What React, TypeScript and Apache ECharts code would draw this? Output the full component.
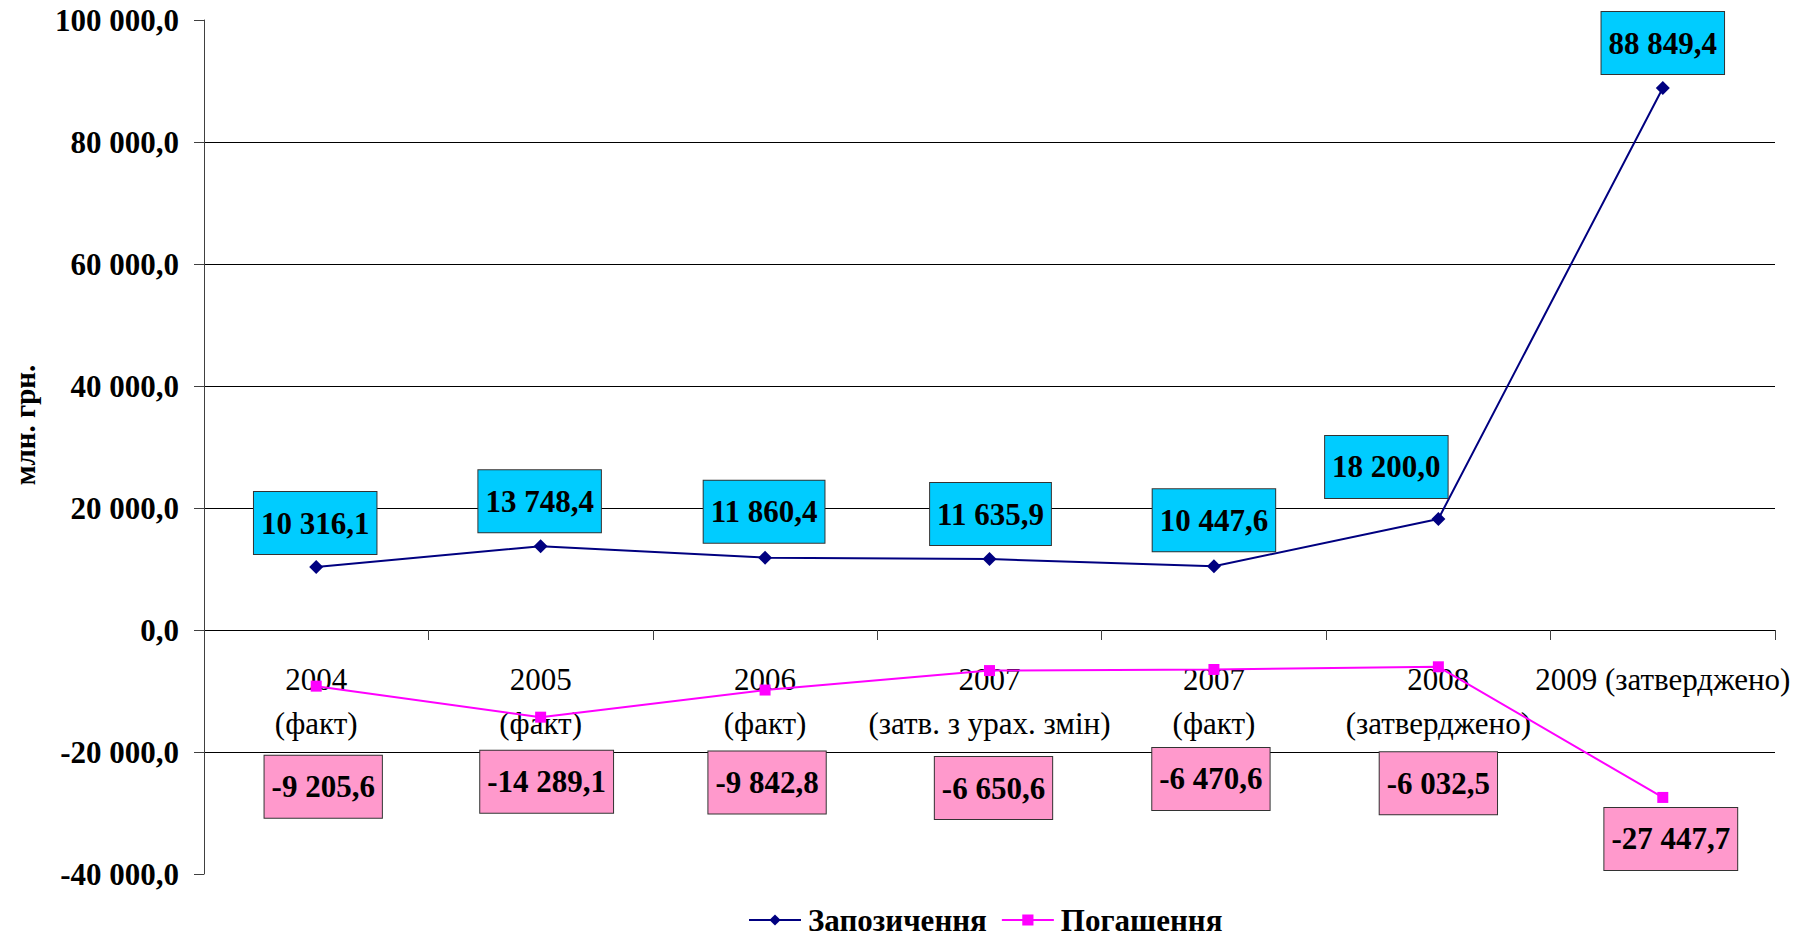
import React, { useEffect, useRef } from "react";
import * as echarts from "echarts";

const categories = [
  "2004\n(факт)",
  "2005\n(факт)",
  "2006\n(факт)",
  "2007\n(затв. з урах. змін)",
  "2007\n(факт)",
  "2008\n(затверджено)",
  "2009 (затверджено)",
];
const borrowing = [10316.1, 13748.4, 11860.4, 11635.9, 10447.6, 18200.0, 88849.4];
const repayment = [-9205.6, -14289.1, -9842.8, -6650.6, -6470.6, -6032.5, -27447.7];
const seriesNames = ["Запозичення", "Погашення"];
const yAxisTitle = "млн. грн.";

// label placement tweaks (layout only)
const borrowLabelOffsets = [[-1, 8], [-1, 7], [-1, 6], [1, 7], [0, 6], [-52, 0], [0, 7]];
const repayLabelOffsets = [[7, 64], [6, 28], [2, 56], [4, 81], [-3, 73], [0, 80], [8, 5]];

const FONT = "'Liberation Serif', 'Times New Roman', serif";

function fmt(v: number): string {
  const s = Math.abs(v).toFixed(1);
  const [i, d] = s.split(".");
  const ii = i.replace(/\B(?=(\d{3})+(?!\d))/g, " ");
  return (v < 0 ? "-" : "") + ii + "," + d;
}

export default function App() {
  const ref = useRef<HTMLDivElement>(null);
  useEffect(() => {
    if (!ref.current) return;
    const chart = echarts.init(ref.current, undefined, { renderer: "svg" });
    const labelBase = {
      show: true,
      formatter: (p: any) => fmt(p.value),
      fontFamily: FONT,
      fontSize: 31,
      fontWeight: "bold" as const,
      color: "#000",
      lineHeight: 32,
      borderColor: "#333",
      borderWidth: 1,
      padding: [15, 7, 15, 7],
    };
    chart.setOption({
      animation: false,
      backgroundColor: "#fff",
      grid: {
        left: 204,
        right: 34,
        top: 20,
        bottom: 64,
        containLabel: false,
        outerBoundsMode: "none",
      },
      legend: {
        data: [{ name: seriesNames[0] }, { name: seriesNames[1] }],
        left: 743,
        top: 899,
        itemWidth: 52,
        itemHeight: 14,
        itemGap: 14,
        textStyle: {
          fontFamily: FONT,
          fontSize: 31,
          fontWeight: "bold",
          color: "#000",
          lineHeight: 32,
          padding: [0, 0, 0, 2],
        },
      },
      graphic: [
        {
          type: "text",
          x: 25,
          y: 425,
          rotation: Math.PI / 2,
          style: {
            text: yAxisTitle,
            fontFamily: FONT,
            fontSize: 29,
            fontWeight: "bold",
            fill: "#000",
            align: "center",
            verticalAlign: "middle",
          },
        },
      ],
      xAxis: {
        type: "category",
        data: categories,
        boundaryGap: true,
        position: "bottom",
        offset: -244,
        axisLine: { onZero: false, lineStyle: { color: "#000", width: 1 } },
        axisTick: { show: true, length: 10, inside: false, lineStyle: { color: "#404040" } },
        axisLabel: {
          fontFamily: FONT,
          fontSize: 31,
          color: "#000",
          lineHeight: 44,
          margin: 27,
          interval: 0,
        },
        splitLine: { show: false },
      },
      yAxis: {
        type: "value",
        min: -40000,
        max: 100000,
        interval: 20000,
        axisLine: { show: true, lineStyle: { color: "#404040", width: 1 } },
        axisTick: { show: true, length: 10, inside: false, lineStyle: { color: "#404040" } },
        axisLabel: {
          fontFamily: FONT,
          fontSize: 31,
          fontWeight: "bold",
          color: "#000",
          margin: 25,
          formatter: (v: number) => fmt(v),
        },
        splitLine: {
          show: true,
          showMinLine: false,
          showMaxLine: false,
          lineStyle: { color: "#000", width: 1 },
        },
      },
      series: [
        {
          name: seriesNames[0],
          type: "line",
          data: borrowing.map((v, i) => ({
            value: v,
            label: { offset: borrowLabelOffsets[i] },
          })),
          symbol: "diamond",
          symbolSize: 14,
          itemStyle: { color: "#000080" },
          lineStyle: { color: "#000080", width: 2 },
          label: {
            ...labelBase,
            position: "top",
            distance: 14,
            backgroundColor: "#00CCFF",
          },
          z: 3,
        },
        {
          name: seriesNames[1],
          type: "line",
          data: repayment.map((v, i) => ({
            value: v,
            label: { offset: repayLabelOffsets[i] },
          })),
          symbol: "rect",
          symbolSize: 11,
          itemStyle: { color: "#FF00FF" },
          lineStyle: { color: "#FF00FF", width: 2 },
          label: {
            ...labelBase,
            position: "bottom",
            distance: 0,
            backgroundColor: "#FF99CC",
          },
          z: 3,
        },
      ],
    });
    return () => chart.dispose();
  }, []);
  return (
    <div
      ref={ref}
      style={{ position: "absolute", left: 0, top: 0, width: 1809, height: 938 }}
    />
  );
}
